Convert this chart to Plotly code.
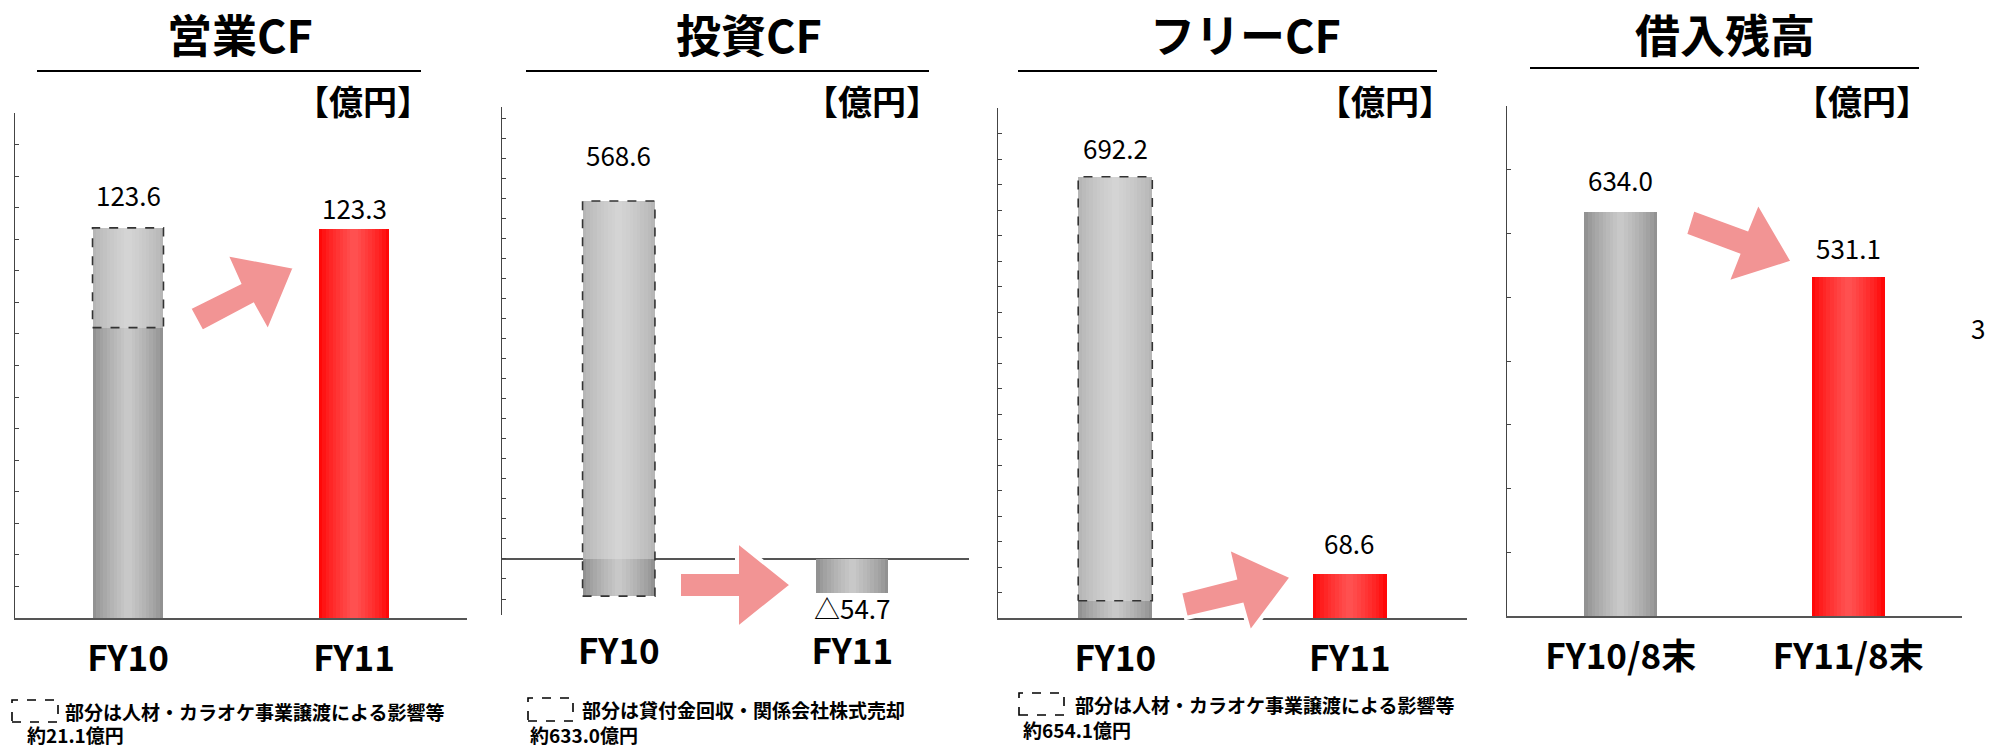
import plotly.graph_objects as go

W, H = 2011, 749
FONT = "Noto Sans CJK JP"

# ---- データ ----
cats_cf = ["FY10", "FY11"]
cats_debt = ["FY10/8末", "FY11/8末"]

op_cf = [123.6, 123.3]          # 営業CF
op_cf_fy10_core = 92.0          # FY10 実線部分（破線部分の下端）
inv_cf = [568.6, -54.7]         # 投資CF
inv_cf_fy10_other = -59.0       # FY10 破線枠の下端
free_cf = [692.2, 68.6]         # フリーCF
free_cf_fy10_core = 27.0        # FY10 実線部分
debt = [634.0, 531.1]           # 借入残高

op_text = ["123.6", "123.3"]
inv_text = ["568.6", "△54.7"]
free_text = ["692.2", "68.6"]
debt_text = ["634.0", "531.1"]

titles = ["営業CF", "投資CF", "フリーCF", "借入残高"]
notes = [
    ("部分は人材・カラオケ事業譲渡による影響等", "約21.1億円"),
    ("部分は貸付金回収・関係会社株式売却", "約633.0億円"),
    ("部分は人材・カラオケ事業譲渡による影響等", "約654.1億円"),
]

# ---- スタイル ----
GRAY = ("#929292", "#C8C8C8")
LIGHT = ("#B6B6B6", "#D4D4D4")
RED = ("#FF0808", "#FF5050")
ARROW = "#F29494"


def px(x):
    return x / W


def py(y):
    return 1 - y / H


def mix(c1, c2, t):
    a = [int(c1[i:i + 2], 16) for i in (1, 3, 5)]
    b = [int(c2[i:i + 2], 16) for i in (1, 3, 5)]
    return "#%02x%02x%02x" % tuple(round(a[i] + (b[i] - a[i]) * t) for i in range(3))


fig = go.Figure()


def grad_bar(x, top, base, width, colors, n, n_layers=10):
    """横方向グラデーションの棒（幅を狭めた棒を重ねる）"""
    for k in range(n_layers):
        t = (k / (n_layers - 1)) ** 0.8
        fig.add_trace(go.Bar(
            x=[x], y=[top - base], base=[base], width=width * (1 - k / n_layers),
            marker=dict(color=mix(colors[0], colors[1], t), line_width=0),
            xaxis=f"x{n}", yaxis=f"y{n}", hoverinfo="skip", showlegend=False,
        ))


def dashed_box(x, lo, hi, width, n):
    h = width / 2
    fig.add_trace(go.Scatter(
        x=[x - h, x + h, x + h, x - h, x - h], y=[lo, lo, hi, hi, lo],
        mode="lines", line=dict(color="#333333", width=1.6, dash="dash"),
        xaxis=f"x{n}", yaxis=f"y{n}", hoverinfo="skip", showlegend=False,
    ))


BW = [0.314, 0.31, 0.316, 0.32]

# 営業CF
grad_bar(0, op_cf_fy10_core, 0, BW[0], GRAY, 1)
grad_bar(0, op_cf[0], op_cf_fy10_core, BW[0], LIGHT, 1)
dashed_box(0, op_cf_fy10_core, op_cf[0], BW[0], 1)
grad_bar(1, op_cf[1], 0, BW[0], RED, 1)

# 投資CF
grad_bar(0, inv_cf[0], 0, BW[1], LIGHT, 2)
grad_bar(0, 0, inv_cf_fy10_other, BW[1], GRAY, 2)
dashed_box(0, inv_cf_fy10_other, inv_cf[0], BW[1], 2)
grad_bar(1, 0, inv_cf[1], BW[1], GRAY, 2)

# フリーCF
grad_bar(0, free_cf_fy10_core, 0, BW[2], GRAY, 3)
grad_bar(0, free_cf[0], free_cf_fy10_core, BW[2], LIGHT, 3)
dashed_box(0, free_cf_fy10_core, free_cf[0], BW[2], 3)
grad_bar(1, free_cf[1], 0, BW[2], RED, 3)

# 借入残高
grad_bar(0, debt[0], 0, BW[3], GRAY, 4)
grad_bar(1, debt[1], 0, BW[3], RED, 4)

# ---- 軸 ----
panels = [
    dict(x0=15, x1=467, y0=113, y1=618, rng=[0, 160], dtick=10, cats=cats_cf, zero=False, so=9),
    dict(x0=502, x1=969, y0=107, y1=615, rng=[-89, 718], dtick=31.8, cats=cats_cf, zero=True, so=13),
    dict(x0=998, x1=1467, y0=108, y1=618, rng=[0, 800], dtick=40, cats=cats_cf, zero=False, so=9),
    dict(x0=1507, x1=1962, y0=106, y1=616, rng=[0, 800], dtick=100, cats=cats_debt, zero=False, so=9),
]
layout_axes = {}
for i, p in enumerate(panels, start=1):
    layout_axes[f"xaxis{i}"] = dict(
        domain=[px(p["x0"]), px(p["x1"])], anchor=f"y{i}", range=[-0.5, 1.5],
        tickvals=[0, 1], ticktext=p["cats"], ticks="", showgrid=False, zeroline=False,
        showline=not p["zero"], linecolor="#555555", linewidth=1.5,
        tickfont=dict(family=FONT, size=35, color="black", weight="bold"),
        ticklabelstandoff=p["so"], fixedrange=True,
    )
    layout_axes[f"yaxis{i}"] = dict(
        domain=[py(p["y1"]), py(p["y0"])], anchor=f"x{i}", range=p["rng"],
        tick0=0, dtick=p["dtick"], ticks="inside", ticklen=4, tickcolor="#444444",
        showticklabels=False, showgrid=False, showline=True, linecolor="#444444",
        linewidth=1, zeroline=p["zero"], zerolinecolor="#555555", zerolinewidth=1.5,
        fixedrange=True,
    )

# ---- 注記 ----
ann = []
title_x = [240, 749, 1245, 1725]
unit_x = [363, 872, 1385, 1862]
for t, tx, ux in zip(titles, title_x, unit_x):
    ann.append(dict(x=px(tx), y=py(34), xref="paper", yref="paper", text=t,
                    showarrow=False, xanchor="center", yanchor="middle",
                    font=dict(family=FONT, size=45, color="black", weight="bold")))
    ann.append(dict(x=px(ux), y=py(100), xref="paper", yref="paper", text="【億円】",
                    showarrow=False, xanchor="center", yanchor="middle",
                    font=dict(family=FONT, size=34, color="black", weight="bold")))

value_sets = [
    (1, [op_cf[0], op_cf[1]], op_text, [33, 21]),
    (2, [inv_cf[0], inv_cf[1]], inv_text, [47, -14]),
    (3, [free_cf[0], free_cf[1]], free_text, [29, 32]),
    (4, debt, debt_text, [32, 30]),
]
for n, vals, texts, shifts in value_sets:
    for i, (v, t, s) in enumerate(zip(vals, texts, shifts)):
        ann.append(dict(x=i, y=v, xref=f"x{n}", yref=f"y{n}", text=t, showarrow=False,
                        yshift=s, xanchor="center", yanchor="middle",
                        font=dict(family=FONT, size=26, color="black")))

note_pos = [(12, 58, 700, 722, 63, 25, 734), (528, 573, 698, 721, 580, 528, 734),
            (1019, 1064, 693, 715, 1073, 1021, 729)]
shapes = []
for (l1, l2), (bx0, bx1, by0, by1, tx, t2x, t2y) in zip(notes, note_pos):
    shapes.append(dict(type="rect", xref="paper", yref="paper", x0=px(bx0), x1=px(bx1),
                       y0=py(by1), y1=py(by0), line=dict(color="black", width=1.6, dash="dash")))
    ann.append(dict(x=px(tx), y=py((by0 + by1) / 2), xref="paper", yref="paper", text=l1,
                    showarrow=False, xanchor="left", yanchor="middle",
                    font=dict(family=FONT, size=19, color="black", weight="bold")))
    ann.append(dict(x=px(t2x), y=py(t2y), xref="paper", yref="paper", text=l2,
                    showarrow=False, xanchor="left", yanchor="middle",
                    font=dict(family=FONT, size=19, color="black", weight="bold")))

ann.append(dict(x=px(1978), y=py(327), xref="paper", yref="paper", text="3", showarrow=False,
                xanchor="center", yanchor="middle", font=dict(family=FONT, size=26, color="black")))

# タイトル下線
for x0, x1, y in [(37, 421, 71), (526, 929, 71), (1018, 1437, 71), (1530, 1919, 68)]:
    shapes.append(dict(type="line", xref="paper", yref="paper", x0=px(x0), x1=px(x1),
                       y0=py(y), y1=py(y), line=dict(color="black", width=2)))

# 矢印
arrows = [
    [(189, 308), (239, 283), (226, 254), (295, 267), (268, 332), (253, 305), (202, 332)],
    [(679, 572), (737, 572), (737, 541), (792, 585), (737, 629), (737, 598), (679, 598)],
    [(1180, 592), (1235, 578), (1228, 548), (1292, 577), (1250, 633), (1242, 605), (1186, 618)],
    [(1693, 209), (1747, 229), (1758, 202), (1793, 262), (1727, 283), (1738, 255), (1685, 235)],
]
for pts in arrows:
    path = "M " + " L ".join(f"{px(x):.5f},{py(y):.5f}" for x, y in pts) + " Z"
    shapes.append(dict(type="path", xref="paper", yref="paper", path=path,
                       fillcolor=ARROW, line=dict(color="white", width=4), layer="above"))

fig.update_layout(
    width=W, height=H, margin=dict(l=0, r=0, t=0, b=0),
    paper_bgcolor="white", plot_bgcolor="white",
    barmode="overlay", bargap=0, showlegend=False,
    annotations=ann, shapes=shapes,
    font=dict(family=FONT),
    **layout_axes,
)

# ページ余白をなくして図を左上にぴったり配置
fig.write_html("out.html", config={"displayModeBar": False},
               post_script="document.body.style.margin='0';")
